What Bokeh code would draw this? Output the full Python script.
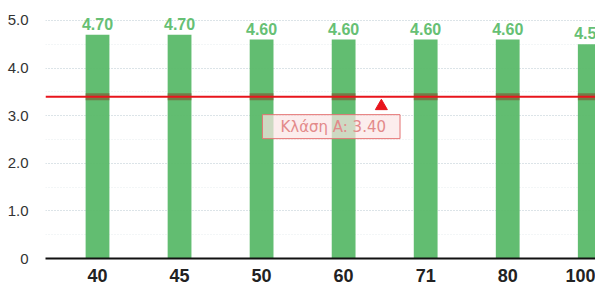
from bokeh.plotting import figure
from bokeh.models import Span, Label, FixedTicker, ColumnDataSource
from bokeh.core.properties import value
from bokeh.embed import file_html
from bokeh.resources import INLINE

categories = ["40", "45", "50", "60", "71", "80", "100"]
values = [4.70, 4.70, 4.60, 4.60, 4.60, 4.60, 4.50]
threshold = 3.40
threshold_label = "Κλάση A: 3.40"
y_ticks = [0, 1, 2, 3, 4, 5]
y_tick_labels = ["0", "1.0", "2.0", "3.0", "4.0", "5.0"]

xs = list(range(len(categories)))
src = ColumnDataSource(dict(x=xs, top=values, lab=[f"{v:.2f}" for v in values],
                            thr=[threshold] * len(xs)))

p = figure(width=595, height=284, output_backend="svg", toolbar_location=None,
           x_range=(-0.634, 6.07), y_range=(0, 5.42),
           min_border_left=45, min_border_right=0, min_border_top=0, min_border_bottom=26)
p.outline_line_color = None
p.background_fill_color = "white"
p.border_fill_color = "white"

p.vbar(x="x", top="top", width=0.29, source=src, fill_color="#5ab969",
       line_color=None, fill_alpha=0.95)
p.rect(x="x", y="thr", width=0.29, height=7, height_units="screen", source=src,
       fill_color="#7a5f36", fill_alpha=0.7, line_color=None)
p.text(x="x", y="top", text="lab", source=src, text_align="center",
       text_baseline="bottom", y_offset=-5, text_color="#66c074",
       text_font=value("Liberation Sans"), text_font_style="bold", text_font_size="16px")

p.add_layout(Span(location=threshold, dimension="width", line_color="#e8141c", line_width=2))
p.scatter(x=[3.46], y=[threshold - 0.2], marker="triangle", size=12,
          fill_color="#e8141c", line_color="#e8141c")
p.add_layout(Label(x=2.01, y=threshold, y_offset=-18, text=threshold_label,
                   anchor="top_left", text_font="DejaVu Sans",
                   text_font_size="15px", text_color="#e38a8a",
                   background_fill_color="#fbe6e6", background_fill_alpha=0.7,
                   border_line_color="#e57373", border_line_width=1,
                   padding=dict(left=18, right=14, top=3, bottom=3)))

# axes
p.xaxis.ticker = FixedTicker(ticks=xs)
p.xaxis.major_label_overrides = {i: c for i, c in enumerate(categories)}
p.xaxis.major_label_text_font = "Liberation Sans"
p.xaxis.major_label_text_font_style = "bold"
p.xaxis.major_label_text_font_size = "18px"
p.xaxis.major_label_text_color = "#222222"
p.xaxis.major_tick_line_color = None
p.xaxis.minor_tick_line_color = None
p.xaxis.axis_line_color = "#111111"
p.xaxis.axis_line_width = 2
p.xaxis.major_label_standoff = 4

p.yaxis.ticker = FixedTicker(ticks=y_ticks, minor_ticks=[0.5, 1.5, 2.5, 3.5, 4.5])
p.yaxis.major_label_overrides = {t: l for t, l in zip(y_ticks, y_tick_labels)}
p.yaxis.major_label_text_font = "Liberation Sans"
p.yaxis.major_label_text_font_size = "15px"
p.yaxis.major_label_text_color = "#333333"
p.yaxis.major_tick_line_color = None
p.yaxis.minor_tick_line_color = None
p.yaxis.axis_line_color = None
p.yaxis.major_label_standoff = 11

p.xgrid.grid_line_color = None
p.ygrid.grid_line_color = "#b8c8d0"
p.ygrid.grid_line_dash = "1 2"
p.ygrid.minor_grid_line_color = "#e6ecee"
p.ygrid.minor_grid_line_dash = "1 2"

open("out.html", "w").write(file_html(p, INLINE))
